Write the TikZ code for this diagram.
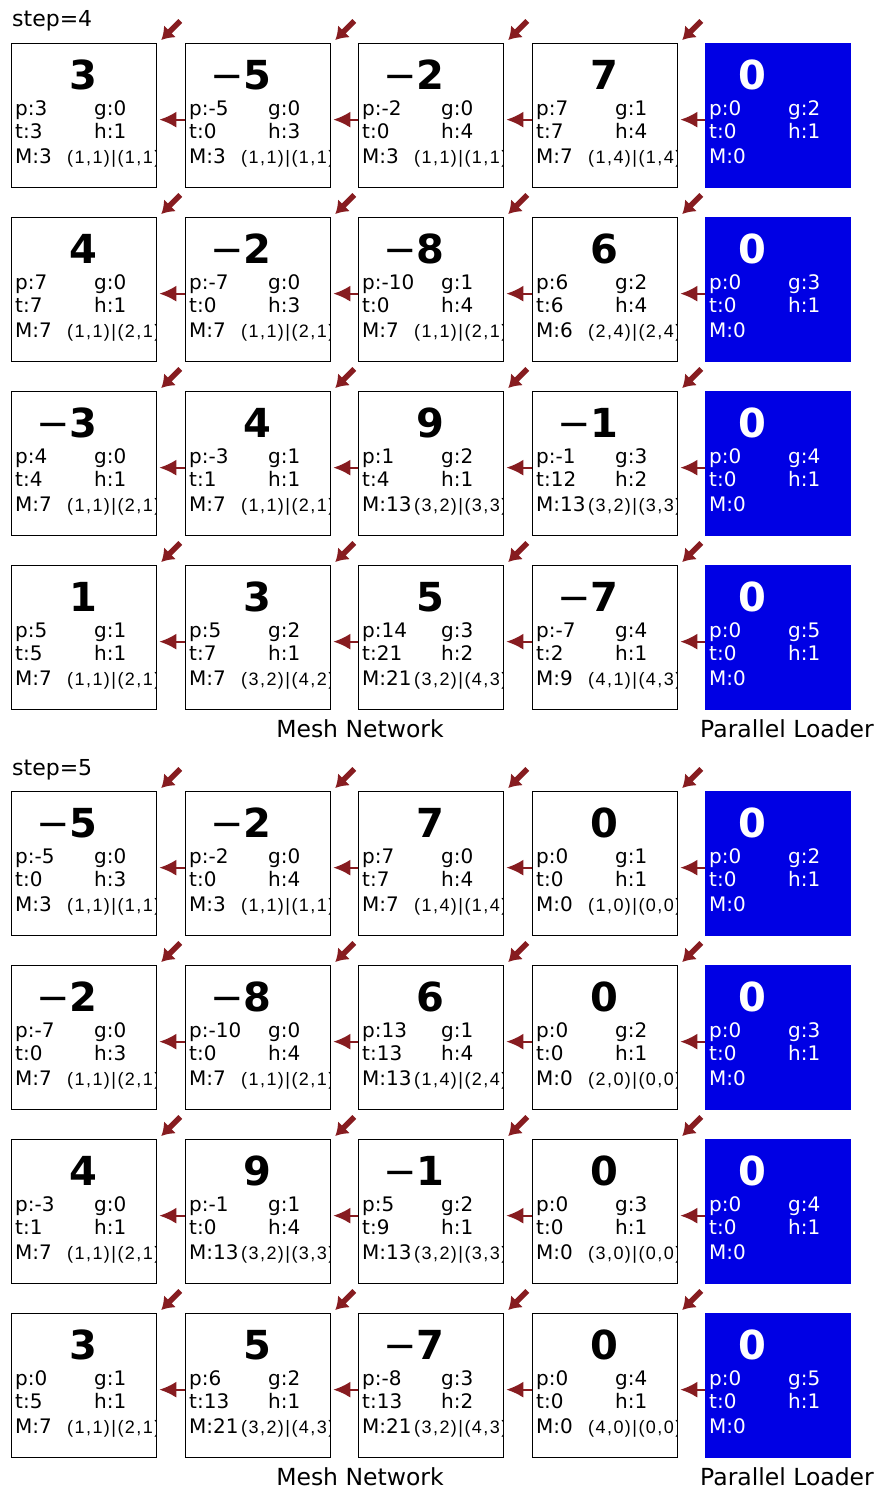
\documentclass[tikz,border=0pt]{standalone}
\usepackage{fontspec}
\setmainfont{DejaVu Sans}
\newfontfamily\pairfont[LetterSpace=8]{Liberation Sans}
\usetikzlibrary{arrows.meta}
\definecolor{arrowred}{RGB}{135,28,32}
\definecolor{loaderblue}{RGB}{0,0,228}
\tikzset{
 wbox/.style={draw=black,line width=1.3pt,fill=white,minimum width=145pt,minimum height=144pt,inner sep=0pt,anchor=north west},
 bbox/.style={draw=loaderblue,line width=1.3pt,fill=loaderblue,minimum width=145pt,minimum height=144pt,inner sep=0pt,anchor=north west},
 bignum/.style={font=\fontsize{40}{40}\selectfont\bfseries,inner sep=0pt,anchor=base east},
 small/.style={font=\fontsize{20}{20}\selectfont,inner sep=0pt,anchor=base west},
 pairtxt/.style={font=\pairfont\fontsize{18}{18}\selectfont,inner sep=0pt,anchor=base west},
 harrow/.style={draw=arrowred,line width=2.2pt,-{Latex[length=17pt,width=16pt]}},
 darrow/.style={draw=arrowred,line width=5.5pt,-{Latex[length=12pt,width=17pt]}},
 capt/.style={font=\fontsize{23.5}{23.5}\selectfont,inner sep=0pt},
 steptxt/.style={font=\fontsize{22}{22}\selectfont,inner sep=0pt,anchor=base west}
}
\newcommand\mn{{\mdseries −}}
% white cell: x, y, big number, p, g, t, h, M, pair
\newcommand\wcell[9]{%
 \node[wbox] (n-#1-#2) at (#1,#2) {};
 \node[bignum] (big-#1-#2) at (#1+87,#2+46) {#3};
 \node[small] (p-#1-#2) at (#1+4,#2+72) {p:#4};
 \node[small] (g-#1-#2) at (#1+83,#2+72) {g:#5};
 \node[small] (t-#1-#2) at (#1+4,#2+95) {t:#6};
 \node[small] (h-#1-#2) at (#1+83,#2+95) {h:#7};
 \node[small] (m-#1-#2) at (#1+4,#2+120) {M:#8};
 \begin{scope}
  \clip (#1,#2) rectangle (#1+144,#2+144);
  \node[pairtxt] (q-#1-#2) at (#1+56,#2+120) {#9};
 \end{scope}
}
% blue loader cell: y, g
\newcommand\bcell[2]{%
 \node[bbox] (n-705-#1) at (705,#1) {};
 \node[bignum,text=white] (big-705-#1) at (705+62,#1+46) {0};
 \node[small,text=white] (p-705-#1) at (705+4,#1+72) {p:0};
 \node[small,text=white] (g-705-#1) at (705+83,#1+72) {g:#2};
 \node[small,text=white] (t-705-#1) at (705+4,#1+95) {t:0};
 \node[small,text=white] (h-705-#1) at (705+83,#1+95) {h:1};
 \node[small,text=white] (m-705-#1) at (705+4,#1+120) {M:0};
}
\newcommand\rowarrows[1]{%
 \draw[harrow] ([yshift=-4pt]n-185-#1.west) -- ([yshift=-4pt,xshift=2pt]n-11-#1.east);
 \draw[harrow] ([yshift=-4pt]n-358-#1.west) -- ([yshift=-4pt,xshift=2pt]n-185-#1.east);
 \draw[harrow] ([yshift=-4pt]n-532-#1.west) -- ([yshift=-4pt,xshift=2pt]n-358-#1.east);
 \draw[harrow] ([yshift=-4pt]n-705-#1.west) -- ([yshift=-4pt,xshift=2pt]n-532-#1.east);
 \foreach \xx in {11,185,358,532}{
  \draw[darrow] ([xshift=23pt,yshift=22pt]n-\xx-#1.north east) -- ([xshift=4pt,yshift=3pt]n-\xx-#1.north east);
 }
}
\begin{document}
\begin{tikzpicture}[x=1pt,y=-1pt]
\useasboundingbox[fill=white] (0,0) rectangle (882,1488);

% ---------- step 4 ----------
\node[steptxt] (step4) at (12,27) {step=4};
\wcell{11}{43}{3}{3}{0}{3}{1}{3}{(1,1)|(1,1)}
\wcell{185}{43}{\mn5}{-5}{0}{0}{3}{3}{(1,1)|(1,1)}
\wcell{358}{43}{\mn2}{-2}{0}{0}{4}{3}{(1,1)|(1,1)}
\wcell{532}{43}{7}{7}{1}{7}{4}{7}{(1,4)|(1,4)}
\bcell{43}{2}
\rowarrows{43}

\wcell{11}{217}{4}{7}{0}{7}{1}{7}{(1,1)|(2,1)}
\wcell{185}{217}{\mn2}{-7}{0}{0}{3}{7}{(1,1)|(2,1)}
\wcell{358}{217}{\mn8}{-10}{1}{0}{4}{7}{(1,1)|(2,1)}
\wcell{532}{217}{6}{6}{2}{6}{4}{6}{(2,4)|(2,4)}
\bcell{217}{3}
\rowarrows{217}

\wcell{11}{391}{\mn3}{4}{0}{4}{1}{7}{(1,1)|(2,1)}
\wcell{185}{391}{4}{-3}{1}{1}{1}{7}{(1,1)|(2,1)}
\wcell{358}{391}{9}{1}{2}{4}{1}{13}{(3,2)|(3,3)}
\wcell{532}{391}{\mn1}{-1}{3}{12}{2}{13}{(3,2)|(3,3)}
\bcell{391}{4}
\rowarrows{391}

\wcell{11}{565}{1}{5}{1}{5}{1}{7}{(1,1)|(2,1)}
\wcell{185}{565}{3}{5}{2}{7}{1}{7}{(3,2)|(4,2)}
\wcell{358}{565}{5}{14}{3}{21}{2}{21}{(3,2)|(4,3)}
\wcell{532}{565}{\mn7}{-7}{4}{2}{1}{9}{(4,1)|(4,3)}
\bcell{565}{5}
\rowarrows{565}

\node[capt,anchor=base] (mesh4) at (360,737) {Mesh Network};
\node[capt,anchor=base west] (load4) at (700,737) {Parallel Loader};

% ---------- step 5 ----------
\node[steptxt] (step5) at (12,775) {step=5};
\wcell{11}{791}{\mn5}{-5}{0}{0}{3}{3}{(1,1)|(1,1)}
\wcell{185}{791}{\mn2}{-2}{0}{0}{4}{3}{(1,1)|(1,1)}
\wcell{358}{791}{7}{7}{0}{7}{4}{7}{(1,4)|(1,4)}
\wcell{532}{791}{0}{0}{1}{0}{1}{0}{(1,0)|(0,0)}
\bcell{791}{2}
\rowarrows{791}

\wcell{11}{965}{\mn2}{-7}{0}{0}{3}{7}{(1,1)|(2,1)}
\wcell{185}{965}{\mn8}{-10}{0}{0}{4}{7}{(1,1)|(2,1)}
\wcell{358}{965}{6}{13}{1}{13}{4}{13}{(1,4)|(2,4)}
\wcell{532}{965}{0}{0}{2}{0}{1}{0}{(2,0)|(0,0)}
\bcell{965}{3}
\rowarrows{965}

\wcell{11}{1139}{4}{-3}{0}{1}{1}{7}{(1,1)|(2,1)}
\wcell{185}{1139}{9}{-1}{1}{0}{4}{13}{(3,2)|(3,3)}
\wcell{358}{1139}{\mn1}{5}{2}{9}{1}{13}{(3,2)|(3,3)}
\wcell{532}{1139}{0}{0}{3}{0}{1}{0}{(3,0)|(0,0)}
\bcell{1139}{4}
\rowarrows{1139}

\wcell{11}{1313}{3}{0}{1}{5}{1}{7}{(1,1)|(2,1)}
\wcell{185}{1313}{5}{6}{2}{13}{1}{21}{(3,2)|(4,3)}
\wcell{358}{1313}{\mn7}{-8}{3}{13}{2}{21}{(3,2)|(4,3)}
\wcell{532}{1313}{0}{0}{4}{0}{1}{0}{(4,0)|(0,0)}
\bcell{1313}{5}
\rowarrows{1313}

\node[capt,anchor=base] (mesh5) at (360,1485) {Mesh Network};
\node[capt,anchor=base west] (load5) at (700,1485) {Parallel Loader};
\end{tikzpicture}
\end{document}
